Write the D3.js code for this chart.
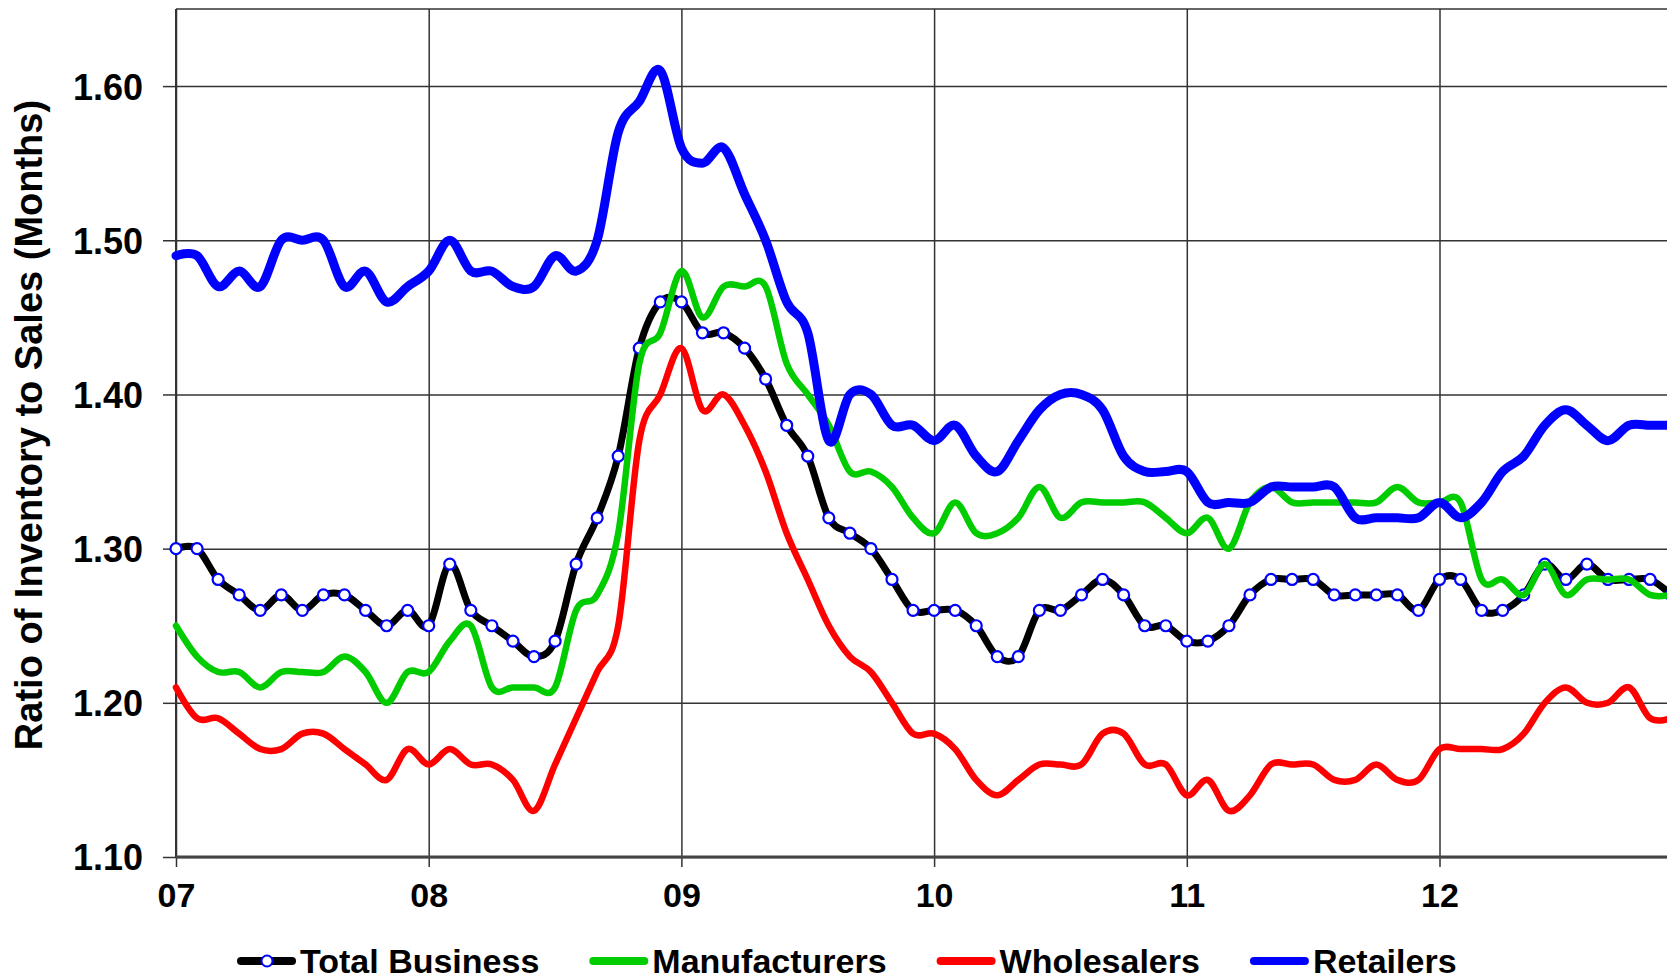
<!DOCTYPE html>
<html>
<head>
<meta charset="utf-8">
<script src="https://cdn.jsdelivr.net/npm/d3@7"></script>
<style>
  html, body { margin: 0; padding: 0; background: #fff; overflow: hidden; }
  svg { display: block; }
  text { font-family: "Liberation Sans", Arial, sans-serif; font-weight: bold; fill: #000; }
</style>
</head>
<body>
<svg id="chart" width="1667" height="979"></svg>
<script>
// ---- Data (monthly, Jan 2007 .. Dec 2012) ----
const months = d3.range(72).map(i => `${2007 + Math.floor(i / 12)}-${String(i % 12 + 1).padStart(2, "0")}`);

const totalBusiness = [
  1.30,1.30,1.28,1.27,1.26,1.27,1.26,1.27,1.27,1.26,1.25,1.26,
  1.25,1.29,1.26,1.25,1.24,1.23,1.24,1.29,1.32,1.36,1.43,1.46,
  1.46,1.44,1.44,1.43,1.41,1.38,1.36,1.32,1.31,1.30,1.28,1.26,
  1.26,1.26,1.25,1.23,1.23,1.26,1.26,1.27,1.28,1.27,1.25,1.25,
  1.24,1.24,1.25,1.27,1.28,1.28,1.28,1.27,1.27,1.27,1.27,1.26,
  1.28,1.28,1.26,1.26,1.27,1.29,1.28,1.29,1.28,1.28,1.28,1.27
];
const manufacturers = [
  1.25,1.23,1.22,1.22,1.21,1.22,1.22,1.22,1.23,1.22,1.20,1.22,
  1.22,1.24,1.25,1.21,1.21,1.21,1.21,1.26,1.27,1.31,1.42,1.44,
  1.48,1.45,1.47,1.47,1.47,1.42,1.40,1.38,1.35,1.35,1.34,1.32,
  1.31,1.33,1.31,1.31,1.32,1.34,1.32,1.33,1.33,1.33,1.33,1.32,
  1.31,1.32,1.30,1.33,1.34,1.33,1.33,1.33,1.33,1.33,1.34,1.33,
  1.33,1.33,1.28,1.28,1.27,1.29,1.27,1.28,1.28,1.28,1.27,1.27
];
const wholesalers = [
  1.21,1.19,1.19,1.18,1.17,1.17,1.18,1.18,1.17,1.16,1.15,1.17,
  1.16,1.17,1.16,1.16,1.15,1.13,1.16,1.19,1.22,1.25,1.37,1.40,
  1.43,1.39,1.40,1.38,1.35,1.31,1.28,1.25,1.23,1.22,1.20,1.18,
  1.18,1.17,1.15,1.14,1.15,1.16,1.16,1.16,1.18,1.18,1.16,1.16,
  1.14,1.15,1.13,1.14,1.16,1.16,1.16,1.15,1.15,1.16,1.15,1.15,
  1.17,1.17,1.17,1.17,1.18,1.20,1.21,1.20,1.20,1.21,1.19,1.19
];
const retailers = [
  1.49,1.49,1.47,1.48,1.47,1.50,1.50,1.50,1.47,1.48,1.46,1.47,
  1.48,1.50,1.48,1.48,1.47,1.47,1.49,1.48,1.50,1.57,1.59,1.61,
  1.56,1.55,1.56,1.53,1.50,1.46,1.44,1.37,1.40,1.40,1.38,1.38,
  1.37,1.38,1.36,1.35,1.37,1.39,1.40,1.40,1.39,1.36,1.35,1.35,
  1.35,1.33,1.33,1.33,1.34,1.34,1.34,1.34,1.32,1.32,1.32,1.32,
  1.33,1.32,1.33,1.35,1.36,1.38,1.39,1.38,1.37,1.38,1.38,1.38
];

const yTicks = [1.10, 1.20, 1.30, 1.40, 1.50, 1.60];
const xTickMonths = [0, 12, 24, 36, 48, 60];
const xTickLabels = ["07", "08", "09", "10", "11", "12"];

const seriesNames = ["Total Business", "Manufacturers", "Wholesalers", "Retailers"];
const seriesColors = ["#000000", "#00cc00", "#ff0000", "#0000ff"];
const seriesWidths = [7, 6.5, 6.5, 9];

// ---- Layout ----
const svg = d3.select("#chart");
const plotLeft = 176, plotTop = 9, plotBottom = 857;
const monthW = 252.7 / 12;
const plotRight = plotLeft + 72 * monthW;

const x = d3.scaleLinear().domain([0, 72]).range([plotLeft, plotRight]);
const y = d3.scaleLinear().domain([1.10, 1.65]).range([plotBottom, plotTop]);

// Gridlines (horizontal)
svg.append("g")
  .attr("transform", `translate(${plotLeft},0)`)
  .call(d3.axisLeft(y).tickValues(yTicks).tickSize(-(plotRight - plotLeft)).tickFormat(""))
  .call(g => g.select(".domain").remove())
  .call(g => g.selectAll("line").attr("stroke", "#333").attr("stroke-width", 1.5));

// Y tick marks and labels
svg.append("g")
  .attr("transform", `translate(${plotLeft},0)`)
  .call(d3.axisLeft(y).tickValues(yTicks).tickSize(13).tickPadding(20).tickFormat(d3.format(".2f")))
  .call(g => g.select(".domain").remove())
  .call(g => g.selectAll("line").attr("stroke", "#333").attr("stroke-width", 1.5))
  .call(g => g.selectAll("text").attr("font-size", 36).attr("font-family", "Liberation Sans, Arial, sans-serif").attr("font-weight", "bold").attr("fill", "#000").attr("dy", "0.36em"));

// Vertical gridlines
svg.append("g")
  .attr("transform", `translate(0,${plotBottom})`)
  .call(d3.axisBottom(x).tickValues(xTickMonths).tickSize(-(plotBottom - plotTop)).tickFormat(""))
  .call(g => g.select(".domain").remove())
  .call(g => g.selectAll("line").attr("stroke", "#333").attr("stroke-width", 1.5));

// X tick marks and labels
svg.append("g")
  .attr("transform", `translate(0,${plotBottom})`)
  .call(d3.axisBottom(x).tickValues(xTickMonths).tickSize(10).tickPadding(16)
    .tickFormat((d, i) => xTickLabels[i]))
  .call(g => g.select(".domain").remove())
  .call(g => g.selectAll("line").attr("stroke", "#333").attr("stroke-width", 1.5))
  .call(g => g.selectAll("text").attr("font-size", 34).attr("font-family", "Liberation Sans, Arial, sans-serif").attr("font-weight", "bold").attr("fill", "#000").attr("dy", "0.71em"));

// Frame: top border, left axis, bottom axis
svg.append("line").attr("x1", plotLeft).attr("x2", plotRight).attr("y1", y(1.65)).attr("y2", y(1.65))
  .attr("stroke", "#333").attr("stroke-width", 1.5);
svg.append("line").attr("x1", plotLeft).attr("x2", plotLeft).attr("y1", plotTop).attr("y2", plotBottom)
  .attr("stroke", "#333").attr("stroke-width", 2);
svg.append("line").attr("x1", plotLeft).attr("x2", plotRight).attr("y1", plotBottom).attr("y2", plotBottom)
  .attr("stroke", "#444").attr("stroke-width", 3);

// Y axis title
svg.append("text")
  .attr("transform", `translate(42,${(plotTop + plotBottom) / 2 - 8}) rotate(-90)`)
  .attr("text-anchor", "middle")
  .attr("font-size", 38)
  .text("Ratio of Inventory to Sales (Months)");

// Lines
const line = d3.line()
  .x((d, i) => x(i))
  .y(d => y(d))
  .curve(d3.curveCatmullRom.alpha(0));

const allSeries = [totalBusiness, manufacturers, wholesalers, retailers];
allSeries.forEach((s, k) => {
  svg.append("path")
    .datum(s)
    .attr("fill", "none")
    .attr("stroke", seriesColors[k])
    .attr("stroke-width", seriesWidths[k])
    .attr("stroke-linejoin", "round")
    .attr("stroke-linecap", "round")
    .attr("d", line);
  if (k === 0) {
    svg.append("g").selectAll("circle")
      .data(s)
      .join("circle")
      .attr("cx", (d, i) => x(i))
      .attr("cy", d => y(d))
      .attr("r", 5.5)
      .attr("fill", "#fff")
      .attr("stroke", "#0000ff")
      .attr("stroke-width", 2.2);
  }
});

// Legend
const legend = svg.append("g");
let lx = 238;
const ly = 961;
seriesNames.forEach((name, k) => {
  const g = legend.append("g").attr("transform", `translate(${lx},${ly})`);
  g.append("line").attr("x1", 3).attr("x2", 54).attr("y1", 0).attr("y2", 0)
    .attr("stroke", seriesColors[k]).attr("stroke-width", 8).attr("stroke-linecap", "round");
  if (k === 0) {
    g.append("circle").attr("cx", 29).attr("cy", 0).attr("r", 5.5)
      .attr("fill", "#fff").attr("stroke", "#0000ff").attr("stroke-width", 2);
  }
  const t = g.append("text").attr("x", 62).attr("y", 12).attr("font-size", 34).text(name);
  const w = t.node().getComputedTextLength();
  lx += 62 + w + 51;
});
</script>
</body>
</html>
